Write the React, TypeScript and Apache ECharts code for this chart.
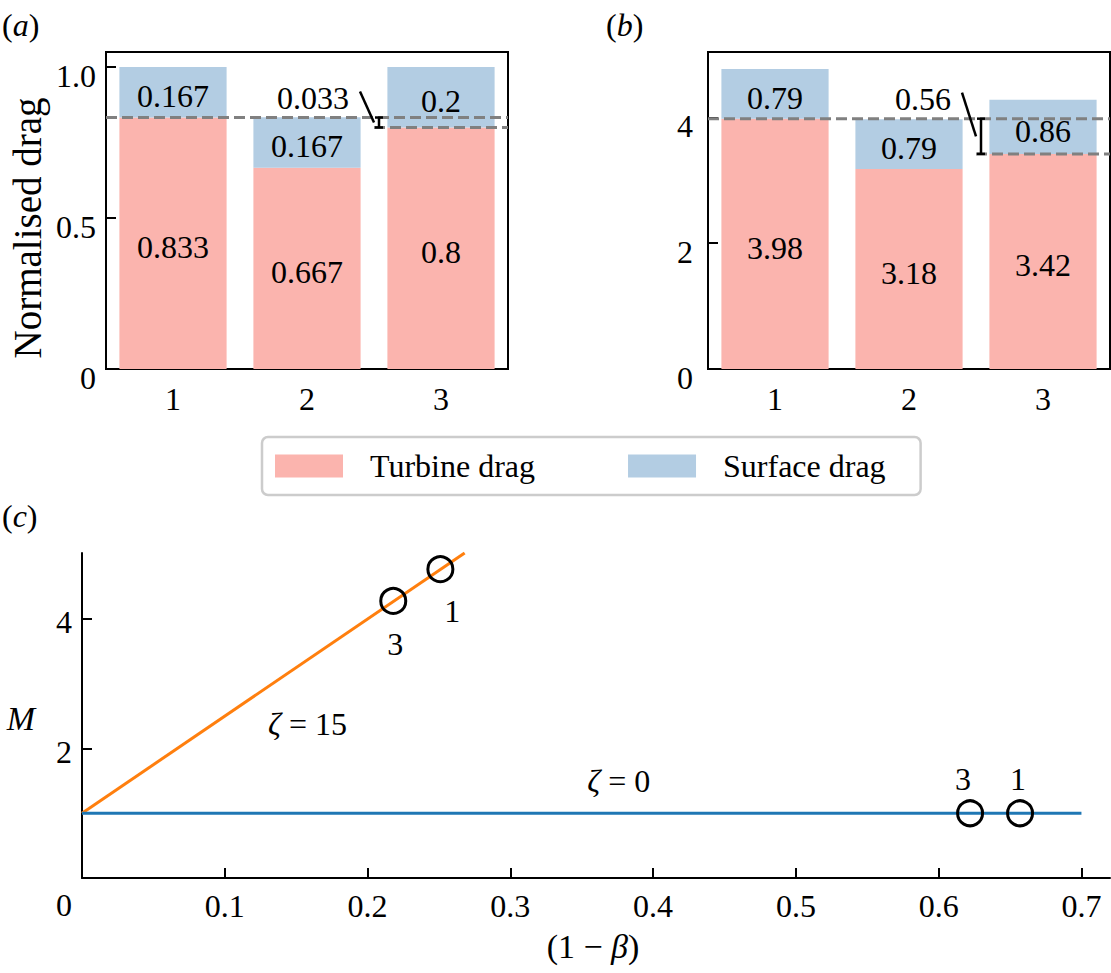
import * as echarts from "echarts";
import { useEffect, useRef } from "react";

const FONT = "'Liberation Serif', 'DejaVu Serif', serif";
const PINK = "#fbb4ae";
const BLUE = "#b3cde3";
const ORANGE = "#ff7f0e";
const LINE_BLUE = "#1f77b4";

// (a) normalised drag and (b) drag, per case
const cases = ["1", "2", "3"];
const turbineA = [0.833, 0.667, 0.8];
const surfaceA = [0.167, 0.167, 0.2];
const turbineB = [3.98, 3.18, 3.42];
const surfaceB = [0.79, 0.79, 0.86];
const gapLabels = ["0.033", "0.56"];
const yTicksA = [0, 0.5, 1];
const yTicksB = [0, 2, 4];

// (c) M against (1 - beta)
const xTicksC = [0.1, 0.2, 0.3, 0.4, 0.5, 0.6, 0.7];
const yTicksC = [2, 4];
const zeta15Line = [
  [0, 1],
  [0.268, 5.02],
];
const zeta0Line = [
  [0, 1],
  [0.7, 1],
];
const pointCases = ["3", "1"];
const zeta15X = [0.218, 0.251];
const zeta15M = [4.28, 4.77];
const zeta0X = [0.622, 0.657];
const zeta0M = [1, 1];

const labelBase = { fontSize: 32, color: "#000", fontFamily: FONT };
const axisLine = { show: true, lineStyle: { color: "#000", width: 2 } };
const tick = { show: true, inside: true, length: 10, lineStyle: { color: "#000", width: 2 } };

function barX(gridIndex) {
  return {
    type: "category",
    gridIndex,
    data: cases,
    axisLine,
    axisTick: { ...tick, alignWithLabel: true },
    axisLabel: { ...labelBase, margin: 14 },
    splitLine: { show: false },
  };
}

// tick labels sit a little below their ticks, as in the original figure
function barY(gridIndex, max, ticks, margin, fmt) {
  return {
    type: "value",
    gridIndex,
    min: 0,
    max,
    axisLine,
    axisTick: { ...tick, customValues: ticks },
    axisLabel: {
      ...labelBase,
      margin,
      customValues: ticks,
      formatter: fmt,
      verticalAlign: "top",
      lineHeight: 18,
    },
    splitLine: { show: false },
  };
}

function bars(idx, stack, turb, surf) {
  const label = { show: true, position: "inside", ...labelBase, offset: [0, 4] };
  return [
    {
      type: "bar",
      name: "Turbine drag",
      xAxisIndex: idx,
      yAxisIndex: idx,
      stack,
      data: turb,
      barWidth: "80%",
      itemStyle: { color: PINK },
      label,
      silent: true,
    },
    {
      type: "bar",
      name: "Surface drag",
      xAxisIndex: idx,
      yAxisIndex: idx,
      stack,
      data: surf,
      barWidth: "80%",
      itemStyle: { color: BLUE },
      label,
      silent: true,
    },
  ];
}

function circles(xs, ms, offsets) {
  return {
    type: "scatter",
    xAxisIndex: 2,
    yAxisIndex: 2,
    data: xs.map((x, i) => ({ value: [x, ms[i]], name: pointCases[i], label: { offset: offsets[i] } })),
    symbol: "circle",
    symbolSize: 25,
    itemStyle: { color: "transparent", borderColor: "#000", borderWidth: 3, opacity: 1 },
    label: { show: true, position: "inside", formatter: "{b}", ...labelBase },
    silent: true,
    z: 5,
  };
}

function text(x, y, str, extra = {}, el = {}) {
  return {
    type: "text",
    x,
    y,
    silent: true,
    z: 20,
    ...el,
    style: {
      text: str,
      fill: "#000",
      fontSize: 32,
      fontFamily: FONT,
      align: "center",
      verticalAlign: "middle",
      textAlign: "center",
      textVerticalAlign: "middle",
      ...extra,
    },
  };
}

function seg(x1, y1, x2, y2, style) {
  return { type: "line", silent: true, z: 15, shape: { x1, y1, x2, y2 }, style };
}

// dashed levels, bracket and gap value between case 1 and case 3
function gapMarks(chart, idx, turb, label) {
  const yTop = chart.convertToPixel({ yAxisIndex: idx }, turb[0]);
  const yLow = chart.convertToPixel({ yAxisIndex: idx }, turb[2]);
  const c0 = chart.convertToPixel({ xAxisIndex: idx }, 0);
  const c1 = chart.convertToPixel({ xAxisIndex: idx }, 1);
  const c2 = chart.convertToPixel({ xAxisIndex: idx }, 2);
  const half = (c1 - c0) / 2;
  const left = c0 - half;
  const right = c2 + half;
  const split = c1 + half;
  const dash = { stroke: "#808080", lineWidth: 3, lineDash: [11, 5] };
  const ink = { stroke: "#000", lineWidth: 2.5 };
  const bx = split + 5;
  return [
    seg(left, yTop, right, yTop, dash),
    seg(split, yLow, right, yLow, dash),
    seg(bx, yTop, bx, yLow, ink),
    seg(bx - 4, yTop, bx + 4, yTop, ink),
    seg(bx - 4, yLow, bx + 4, yLow, ink),
    seg(split - 14, yTop - 26, split, (yTop + yLow) / 2, ink),
    text(split - 25, yTop - 20, label, { align: "right", textAlign: "right" }),
  ];
}

const serifRich = {
  p: { fontSize: 32, fontFamily: FONT, fill: "#000" },
  i: { fontSize: 32, fontFamily: FONT, fontStyle: "italic", fill: "#000" },
};

export default function App() {
  const chartRef = useRef(null);
  useEffect(() => {
    const chart = echarts.init(chartRef.current, null, { renderer: "svg" });
    const option = {
      animation: false,
      backgroundColor: "#fff",
      textStyle: { fontFamily: FONT },
      legend: {
        data: ["Turbine drag", "Surface drag"],
        left: 262,
        top: 437,
        selectedMode: false,
        icon: "rect",
        itemWidth: 68,
        itemHeight: 23,
        itemGap: 93,
        padding: [13, 35, 13, 13],
        borderColor: "#cccccc",
        borderWidth: 2.5,
        borderRadius: 6,
        textStyle: { ...labelBase, padding: [0, 0, 0, 22] },
      },
      grid: [
        { left: 106, top: 52, width: 402, height: 317, show: true, borderColor: "#000", borderWidth: 2 },
        { left: 708, top: 52, width: 402, height: 317, show: true, borderColor: "#000", borderWidth: 2 },
        { left: 82, top: 553, width: 1028, height: 325 },
      ],
      xAxis: [
        barX(0),
        barX(1),
        {
          type: "value",
          gridIndex: 2,
          min: 0,
          max: 0.72,
          axisLine,
          axisTick: { ...tick, customValues: xTicksC },
          axisLabel: { ...labelBase, margin: 12, customValues: xTicksC, formatter: (v) => v.toFixed(1) },
          splitLine: { show: false },
        },
      ],
      yAxis: [
        barY(0, 1.05, yTicksA, 10, (v) => (v === 0 ? "0" : v.toFixed(1))),
        barY(1, 5.04, yTicksB, 15, (v) => String(v)),
        {
          type: "value",
          gridIndex: 2,
          min: 0,
          max: 5.02,
          axisLine,
          axisTick: { ...tick, customValues: yTicksC },
          axisLabel: {
            ...labelBase,
            margin: 10,
            customValues: yTicksC,
            verticalAlign: "top",
            lineHeight: 6,
          },
          splitLine: { show: false },
        },
      ],
      series: [
        ...bars(0, "a", turbineA, surfaceA),
        ...bars(1, "b", turbineB, surfaceB),
        {
          type: "line",
          xAxisIndex: 2,
          yAxisIndex: 2,
          data: zeta15Line,
          symbol: "none",
          lineStyle: { color: ORANGE, width: 3 },
          silent: true,
        },
        {
          type: "line",
          xAxisIndex: 2,
          yAxisIndex: 2,
          data: zeta0Line,
          symbol: "none",
          lineStyle: { color: LINE_BLUE, width: 3 },
          silent: true,
        },
        circles(zeta15X, zeta15M, [
          [2, 43],
          [12, 42],
        ]),
        circles(zeta0X, zeta0M, [
          [-7, -34],
          [-2, -34],
        ]),
      ],
    };
    chart.setOption(option);

    const z15 = chart.convertToPixel({ gridIndex: 2 }, [0.158, 2.38]);
    const z0 = chart.convertToPixel({ gridIndex: 2 }, [0.376, 1.5]);
    chart.setOption({
      graphic: [
        ...gapMarks(chart, 0, turbineA, gapLabels[0]),
        ...gapMarks(chart, 1, turbineB, gapLabels[1]),
        text(2, 25, "{p|(}{i|a}{p|)}", { rich: serifRich, align: "left", textAlign: "left" }),
        text(606, 25, "{p|(}{i|b}{p|)}", { rich: serifRich, align: "left", textAlign: "left" }),
        text(2, 516, "{p|(}{i|c}{p|)}", { rich: serifRich, align: "left", textAlign: "left" }),
        text(27, 228, "Normalised drag", { fontSize: 39 }, { rotation: Math.PI / 2 }),
        text(21, 718, "M", { fontSize: 34, fontStyle: "italic" }),
        text(64, 905, "0"),
        text(593, 946, "{p|(1 − }{i|β}{p|)}", {
          rich: {
            p: { fontSize: 34, fontFamily: FONT, fill: "#000" },
            i: { fontSize: 34, fontFamily: FONT, fontStyle: "italic", fill: "#000" },
          },
        }),
        text(z15[0], z15[1], "{i|ζ}{p| = 15}", { rich: serifRich }),
        text(z0[0], z0[1], "{i|ζ}{p| = 0}", { rich: serifRich }),
      ],
    });
    return () => {
      chart.dispose();
    };
  }, []);

  return (
    <div
      ref={chartRef}
      style={{ position: "absolute", left: 0, top: 0, width: 1111, height: 973 }}
    />
  );
}
